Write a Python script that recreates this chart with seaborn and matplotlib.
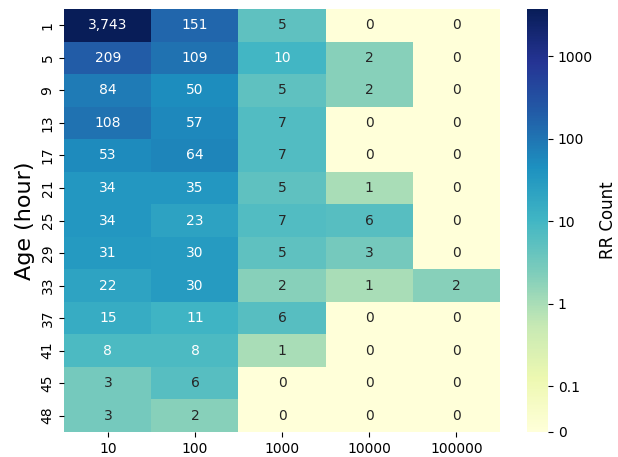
import numpy as np
import pandas as pd
import matplotlib
matplotlib.use("Agg")
import matplotlib.pyplot as plt
import seaborn as sns
from matplotlib.colors import SymLogNorm

ages = [1, 5, 9, 13, 17, 21, 25, 29, 33, 37, 41, 45, 48]
bins = ["10", "100", "1000", "10000", "100000"]
col_10 = [3743, 209, 84, 108, 53, 34, 34, 31, 22, 15, 8, 3, 3]
col_100 = [151, 109, 50, 57, 64, 35, 23, 30, 30, 11, 8, 6, 2]
col_1000 = [5, 10, 5, 7, 7, 5, 7, 5, 2, 6, 1, 0, 0]
col_10000 = [0, 2, 2, 0, 0, 1, 6, 3, 1, 0, 0, 0, 0]
col_100000 = [0, 0, 0, 0, 0, 0, 0, 0, 2, 0, 0, 0, 0]
cbar_ticks = [0, 0.1, 1, 10, 100, 1000]
cbar_ticklabels = ["0", "0.1", "1", "10", "100", "1000"]

df = pd.DataFrame({b: c for b, c in zip(bins, [col_10, col_100, col_1000, col_10000, col_100000])},
                  index=ages)

fig, ax = plt.subplots(figsize=(6.18, 4.57), dpi=100)
norm = SymLogNorm(linthresh=0.1, linscale=0.5, vmin=0, vmax=df.values.max(), base=10)
hm = sns.heatmap(df, ax=ax, cmap="YlGnBu", norm=norm, annot=True, fmt=",",
                 cbar_kws={"label": "RR Count"}, annot_kws={"fontsize": 10})
cbar = hm.collections[0].colorbar
cbar.set_ticks(cbar_ticks)
cbar.set_ticklabels(cbar_ticklabels)
cbar.ax.tick_params(labelsize=10)
cbar.set_label("RR Count", fontsize=12)
cbar.ax.minorticks_off()
ax.set_ylabel("Age (hour)", fontsize=16)
ax.set_xlabel("")
ax.tick_params(labelsize=10)
plt.setp(ax.get_xticklabels(), rotation=0)
plt.setp(ax.get_yticklabels(), rotation=90, va="center")
fig.subplots_adjust(left=0.104, right=0.985, bottom=0.055, top=0.98)
fig.savefig("out.png", dpi=100)
